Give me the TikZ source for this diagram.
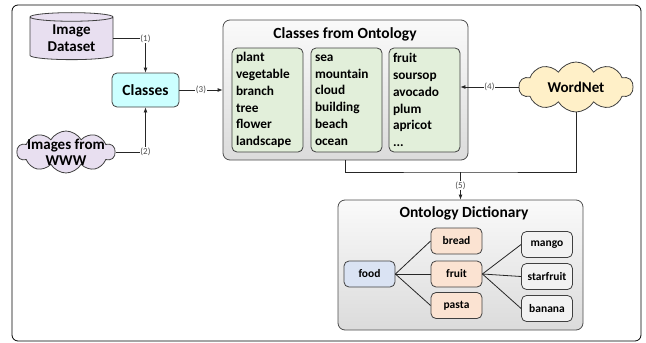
\documentclass[tikz,border=0pt]{standalone}
\usepackage{fontspec}
\setmainfont{Carlito}
\usetikzlibrary{shapes.geometric,shapes.symbols,arrows.meta}

\definecolor{dsetfill}{HTML}{E8DFF0}
\definecolor{classfill}{HTML}{CCFFFF}
\definecolor{listfill}{HTML}{E2EFDA}
\definecolor{wnfill}{HTML}{FFF0C8}
\definecolor{foodfill}{HTML}{DAE3F3}
\definecolor{midfill}{HTML}{FBE3D2}
\definecolor{leaffill}{HTML}{F2F2F2}

\begin{document}
\begin{tikzpicture}[x=1pt,y=-1pt,
  box/.style={draw=black!75,thick,rounded corners=5pt,font=\bfseries},
  panel/.style={draw=black!70,thick,rounded corners=7pt,top color=gray!4,bottom color=gray!28},
  listbox/.style={box,fill=listfill,minimum width=71pt,minimum height=104pt,
    text width=63pt,align=left,font=\bfseries\fontsize{13.3}{16.8}\selectfont},
  leaf/.style={box,minimum width=51pt,minimum height=26pt,font=\bfseries\fontsize{11.5}{13}\selectfont},
  title/.style={font=\bfseries\fontsize{15.5}{17}\selectfont},
  cloudy/.style={cloud,cloud puffs=10,cloud puff arc=120,cloud ignores aspect,
    draw=black!75,thick,inner sep=0pt},
  cloudtext/.style={font=\bfseries\fontsize{15}{16}\selectfont,align=center},
  lbl/.style={fill=white,inner sep=0.6pt,font=\fontsize{9}{10}\selectfont,text=black!70},
  conn/.style={thick,black!85},
  arr/.style={conn,-{Latex[length=5pt,width=4pt]}}
]
  \useasboundingbox (0,0) rectangle (646,343);
  \draw[thick,rounded corners=6pt] (12,5) rectangle (641,341);

  % sources
  \node[cylinder,shape border rotate=90,aspect=0.18,draw=black!75,thick,fill=dsetfill,
    minimum width=83pt,minimum height=47pt,align=center,inner sep=0pt,
    font=\bfseries\fontsize{15}{17}\selectfont] (dataset) at (71.5,38.5) {Image\\Dataset};
  \node[box,fill=classfill,minimum width=67pt,minimum height=34pt,
    font=\bfseries\fontsize{15.5}{17}\selectfont] (classes) at (145.5,90) {Classes};
  \node[cloudy,fill=dsetfill,minimum width=98pt,minimum height=42pt,
    label={[cloudtext]center:Images from\\WWW}] (www) at (66,152) {};
  \node[cloudy,fill=wnfill,minimum width=114pt,minimum height=50pt,
    label={[cloudtext]center:WordNet}] (wordnet) at (576,87) {};

  % classes from ontology
  \node[panel,minimum width=245pt,minimum height=140pt] (onto) at (345.5,90) {};
  \node[title] (ontotitle) at (345,34) {Classes from Ontology};
  \node[listbox] (list1) at (267.5,100) {plant\\vegetable\\branch\\tree\\flower\\landscape};
  \node[listbox] (list2) at (346.5,100) {sea\\mountain\\cloud\\building\\beach\\ocean};
  \node[listbox] (list3) at (424.5,100) {fruit\\soursop\\avocado\\plum\\apricot\\...};

  % ontology dictionary
  \node[panel,minimum width=245pt,minimum height=130pt] (dict) at (460.5,265) {};
  \node[title] (dicttitle) at (464,213) {Ontology Dictionary};
  \node[leaf,fill=foodfill] (food) at (369.5,274) {food};
  \node[leaf,fill=midfill] (bread) at (456.5,241) {bread};
  \node[leaf,fill=midfill] (fruit) at (456.5,274) {fruit};
  \node[leaf,fill=midfill] (pasta) at (456.5,305.5) {pasta};
  \node[leaf,fill=leaffill] (mango) at (547,244.5) {mango};
  \node[leaf,fill=leaffill] (starfruit) at (547,276.5) {starfruit};
  \node[leaf,fill=leaffill] (banana) at (547,308.5) {banana};

  \foreach \n in {bread,fruit,pasta}
    \draw[conn] (food.east) -- (\n.west);
  \foreach \n in {mango,starfruit,banana}
    \draw[conn] (fruit.east) -- (\n.west);

  % connectors
  \draw[arr] (dataset.east) -| node[lbl]{(1)} (classes.north);
  \draw[arr] (www.east) -| node[lbl]{(2)} (classes.south);
  \draw[arr] (classes.east) -- node[lbl]{(3)} (classes.east -| onto.west);
  \draw[arr] (wordnet.west) -- node[lbl]{(4)} (wordnet.west -| list3.east);
  \coordinate (j5) at (460.5,172);
  \draw[conn] (onto.south) |- (j5) -| (wordnet.south);
  \draw[arr] (j5) -- node[lbl]{(5)} (dict.north);
\end{tikzpicture}
\end{document}
